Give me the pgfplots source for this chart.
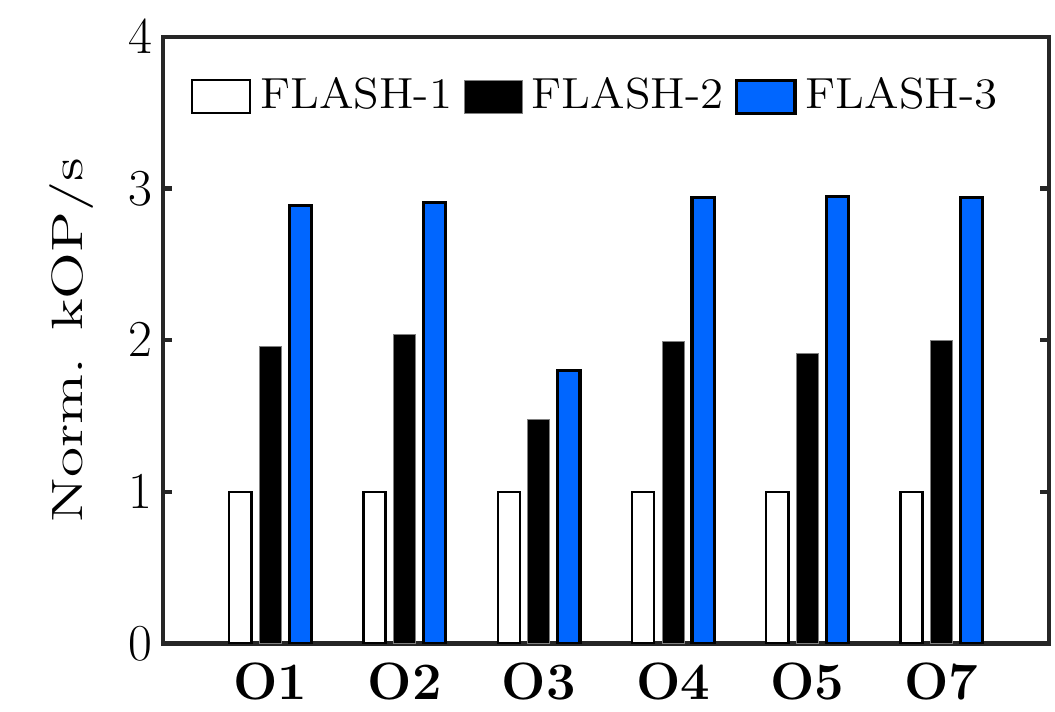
\documentclass[border=0pt]{standalone}
\usepackage{graphicx}
\usepackage{pgfplots}
\pgfplotsset{compat=1.18}
\definecolor{fblue}{RGB}{0,102,255}
\definecolor{axgray}{RGB}{38,38,38}
\pgfplotsset{
  mylegend/.style={legend image code/.code={\draw[##1] (0pt,-6.1pt) rectangle (19.5pt,4.9pt);}}
}
\begin{document}
\begin{tikzpicture}
\useasboundingbox (-54.33pt,-22.83pt) rectangle (297.33pt,214.5pt);
\begin{axis}[
  at={(0,0)}, anchor=south west,
  scale only axis, width=295.33pt, height=202.17pt,
  xmin=0.2, xmax=6.8, ymin=0, ymax=4,
  xtick={1,2,3,4,5,6}, xticklabels={O1,O2,O3,O4,O5,O7},
  ytick={0,1,2,3,4},
  axis line style={draw=axgray, line width=1.5pt},
  tick style={draw=axgray, line width=1.5pt},
  tick align=inside, major tick length=3pt,
  ytick pos=both,
  xtick style={draw=none},
  yticklabel style={font=\fontsize{17}{20}\selectfont},
  xticklabel style={font=\fontsize{17.5}{20}\selectfont\bfseries, yshift=-3pt},
  ylabel={\scalebox{1.4}[1]{Norm. kOP/s}},
  ylabel style={font=\fontsize{14.6}{17}\selectfont, at={(axis description cs:-0.1027,0.5)}, anchor=center},
  legend columns=3,
  legend style={at={(rel axis cs:0,1)}, anchor=north west, xshift=9pt, yshift=-13.2pt,
    draw=none, fill=none, font=\fontsize{14.5}{17}\selectfont, inner sep=0pt, row sep=0pt,
    nodes={inner xsep=3pt, inner ysep=0pt},
    /tikz/every even column/.append style={column sep=0.8pt}},
]
\addplot[ybar, bar width=0.165, bar shift=-0.2236, draw=black, fill=white, line width=0.8pt, mylegend]
  coordinates {(1,1.00)(2,1.00)(3,1.00)(4,1.00)(5,1.00)(6,1.00)};
\addlegendentry{\scalebox{1.08}[1]{FLASH-1}}
\addplot[ybar, bar width=0.165, bar shift=0, draw=gray, fill=black, line width=0.3pt, mylegend]
  coordinates {(1,1.96)(2,2.04)(3,1.48)(4,1.99)(5,1.91)(6,2.00)};
\addlegendentry{\scalebox{1.08}[1]{FLASH-2}}
\addplot[ybar, bar width=0.165, bar shift=0.2236, draw=black, fill=fblue, line width=1.1pt, mylegend]
  coordinates {(1,2.89)(2,2.91)(3,1.80)(4,2.94)(5,2.95)(6,2.94)};
\addlegendentry{\scalebox{1.08}[1]{FLASH-3}}
\end{axis}
\end{tikzpicture}
\end{document}
